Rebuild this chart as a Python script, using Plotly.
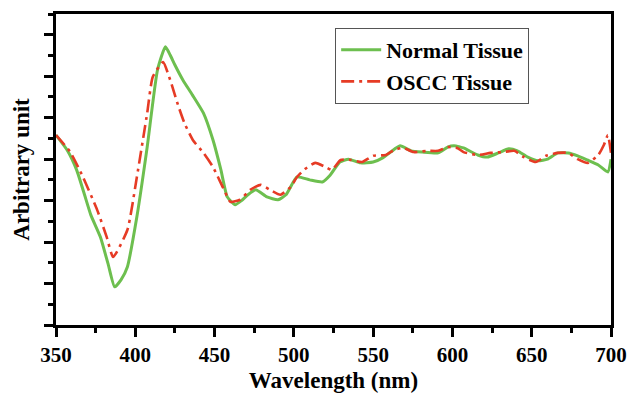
import plotly.graph_objects as go

# Wavelength (nm) and intensity (arbitrary units)
x_normal = [350, 357, 363, 368, 372, 378, 383, 387, 391, 395,
            401, 407.5, 414, 419, 422, 425, 430, 436, 443, 449,
            454, 458, 463, 467, 471, 476, 483, 490, 495, 502,
            510, 518, 523, 529, 534.5, 542, 550, 556, 561, 567,
            574, 581, 591, 597, 601, 605, 607, 616, 622, 629,
            635.5, 641, 647.5, 654, 660, 666.5, 673, 679, 685, 692,
            698, 700]
y_normal = [4.58, 4.22, 3.74, 3.14, 2.65, 2.12, 1.45, 0.92, 1.09, 1.40,
            2.61, 4.29, 6.15, 6.71, 6.51, 6.27, 5.91, 5.55, 5.11, 4.46,
            3.74, 3.09, 2.90, 3.00, 3.14, 3.26, 3.09, 3.02, 3.14, 3.57,
            3.50, 3.45, 3.62, 3.93, 4.00, 3.91, 3.93, 4.03, 4.17, 4.32,
            4.20, 4.17, 4.15, 4.29, 4.32, 4.29, 4.27, 4.10, 4.05, 4.15,
            4.25, 4.20, 4.05, 3.96, 4.00, 4.15, 4.15, 4.08, 3.98, 3.86,
            3.69, 4.00]

x_oscc = [350, 359, 367, 376, 382, 386, 395, 401, 407.5, 411,
          417.5, 422, 427, 431, 436.5, 443, 449, 455.5, 460, 466,
          472.5, 479, 485, 491.5, 498, 502, 507, 513.5, 520, 524,
          529.5, 536, 543, 550, 558, 563, 569, 575.5, 584, 591,
          597, 603, 607, 616, 624, 632, 639, 645, 652.5, 659,
          666.5, 673, 679, 685.5, 692, 695.5, 698, 700]
y_oscc = [4.58, 4.17, 3.57, 2.77, 2.12, 1.64, 2.29, 3.57, 5.11, 5.98,
          6.34, 5.91, 5.30, 4.87, 4.45, 4.15, 3.81, 3.30, 2.97, 3.02,
          3.26, 3.38, 3.26, 3.14, 3.33, 3.57, 3.76, 3.91, 3.81, 3.74,
          3.98, 3.98, 3.93, 4.08, 4.10, 4.22, 4.27, 4.17, 4.20, 4.20,
          4.29, 4.27, 4.17, 4.10, 4.15, 4.17, 4.20, 4.05, 3.93, 4.08,
          4.15, 4.15, 4.00, 3.91, 4.10, 4.34, 4.58, 4.15]

x_ticks = [350, 400, 450, 500, 550, 600, 650, 700]
x_ticklabels = ["350", "400", "450", "500", "550", "600", "650", "700"]

SERIF = "Liberation Serif, Times New Roman, serif"

fig = go.Figure()
fig.add_trace(go.Scatter(
    x=x_normal, y=y_normal, mode="lines", name="Normal Tissue",
    line=dict(color="#6dbf4f", width=3, shape="spline", smoothing=0.5),
))
fig.add_trace(go.Scatter(
    x=x_oscc, y=y_oscc, mode="lines", name="OSCC Tissue",
    line=dict(color="#e63b25", width=2.6, dash="13px,5px,3px,5px",
              shape="spline", smoothing=0.5),
))

axis_common = dict(
    showline=True, linecolor="black", linewidth=3, mirror=True,
    showgrid=False, zeroline=False, ticks="outside", tickcolor="black",
    tickwidth=2.5, automargin=False,
)

fig.update_xaxes(
    range=[350, 700], tickvals=x_ticks, ticktext=x_ticklabels, ticklen=9,
    ticklabeloverflow="allow",
    minor=dict(dtick=25, tick0=350, ticks="outside", ticklen=5,
               tickwidth=2.5, tickcolor="black"),
    tickfont=dict(family=SERIF, size=21, color="black", weight="bold"),
    title=dict(text="Wavelength (nm)", standoff=6,
               font=dict(family=SERIF, size=23, color="black", weight="bold")),
    **axis_common,
)
fig.update_yaxes(
    range=[0, 7.5], dtick=1, tick0=0, ticklen=9, showticklabels=False,
    minor=dict(dtick=0.5, tick0=0, ticks="outside", ticklen=5,
               tickwidth=2.5, tickcolor="black"),
    title=dict(text="Arbitrary unit", standoff=8,
               font=dict(family=SERIF, size=23, color="black", weight="bold")),
    **axis_common,
)

fig.update_layout(
    width=628, height=394,
    margin=dict(l=56, r=17, t=14, b=69),
    paper_bgcolor="white", plot_bgcolor="white",
    showlegend=True,
    legend=dict(
        x=0.503, y=0.955, xanchor="left", yanchor="top",
        bgcolor="white", bordercolor="#555555", borderwidth=1,
        font=dict(family=SERIF, size=22, color="black", weight="bold"),
        tracegroupgap=0, itemwidth=40,
    ),
)

# remove the default page margin so the figure sits at the window's corner
fig.write_html(
    "out.html",
    config={"displayModeBar": False},
    post_script="document.body.style.margin='0';document.body.style.overflow='hidden';",
)
